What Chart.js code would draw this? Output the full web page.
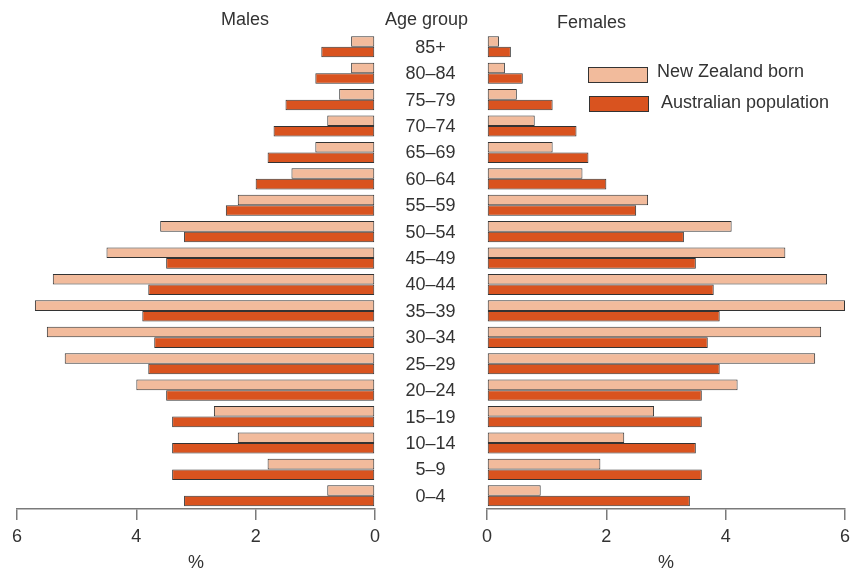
<!DOCTYPE html>
<html>
<head>
<meta charset="utf-8">
<script src="https://cdn.jsdelivr.net/npm/chart.js@4"></script>
<style>
  body { margin:0; background:#fff; overflow:hidden; }
  #wrap { position:relative; width:852px; height:572px; overflow:hidden; font-family:"Liberation Sans", Arial, sans-serif; color:#333; }
  .box { position:absolute; }
  .lbl { position:absolute; font-size:18px; white-space:nowrap; }
  .swatch { position:absolute; width:58px; height:14px; border:1px solid #333; }
</style>
</head>
<body>
<div id="wrap">
  <div class="box" style="left:0;top:0;width:430px;height:572px"><canvas id="malesChart"></canvas></div>
  <div class="box" style="left:375px;top:0;width:482px;height:572px"><canvas id="femalesChart"></canvas></div>
  <div class="lbl" style="left:221px;top:9px">Males</div>
  <div class="lbl" style="left:385px;top:9px">Age group</div>
  <div class="lbl" style="left:557px;top:12px">Females</div>
  <div id="legend"></div>
</div>
<script>
const ageGroups = ['85+','80–84','75–79','70–74','65–69','60–64','55–59','50–54','45–49',
                   '40–44','35–39','30–34','25–29','20–24','15–19','10–14','5–9','0–4'];
const malesNZ   = [0.4,0.4,0.6,0.8,1.0,1.4,2.3,3.6,4.5,5.4,5.7,5.5,5.2,4.0,2.7,2.3,1.8,0.8];
const malesAus  = [0.9,1.0,1.5,1.7,1.8,2.0,2.5,3.2,3.5,3.8,3.9,3.7,3.8,3.5,3.4,3.4,3.4,3.2];
const femalesNZ = [0.2,0.3,0.5,0.8,1.1,1.6,2.7,4.1,5.0,5.7,6.0,5.6,5.5,4.2,2.8,2.3,1.9,0.9];
const femalesAus= [0.4,0.6,1.1,1.5,1.7,2.0,2.5,3.3,3.5,3.8,3.9,3.7,3.9,3.6,3.6,3.5,3.6,3.4];
const seriesNames = ['New Zealand born','Australian population'];
const xTicks = [0,2,4,6];

const NZ_COLOR = '#f2bb9c';
const AUS_COLOR = '#d9531f';
const FONT = '"Liberation Sans", Arial, sans-serif';
const TEXT = '#333';

function makeDatasets(nz, aus){
    return [
        { label: seriesNames[0], data: nz, backgroundColor: NZ_COLOR, borderColor:'#333', borderWidth:1, borderSkipped:false,
          categoryPercentage:0.8, barPercentage:1.0 },
        { label: seriesNames[1], data: aus, backgroundColor: AUS_COLOR, borderColor:'#333', borderWidth:1, borderSkipped:false,
          categoryPercentage:0.8, barPercentage:1.0 }
    ];
}

function makeOptions(reverse, padLeft, padRight){
    return {
        indexAxis: 'y',
        responsive: true,
        maintainAspectRatio: false,
        animation: false,
        layout: { padding: { left: padLeft, right: padRight, top: 33.6, bottom: 0 } },
        plugins: { legend: { display:false }, tooltip: { enabled:false } },
        scales: {
            x: {
                reverse: reverse,
                min: 0, max: 6,
                afterBuildTicks: (s) => { s.ticks = xTicks.map(v => ({ value: v })); },
                afterFit: (s) => { s.height = 63; },
                grid: { display:true, drawOnChartArea:false, drawTicks:true, tickLength:11, color:'#7a7a7a', lineWidth:1.5 },
                border: { display:true, color:'#7a7a7a', width:1.5 },
                ticks: { color: TEXT, font: { family: FONT, size: 18 }, padding: 6, maxRotation:0 },
                title: { display:true, text:'%', color: TEXT, font: { family: FONT, size: 18, lineHeight: 1.0 }, padding: { top:0, bottom:0 } }
            },
            y: { display:false }
        }
    };
}

// age group labels in the gap between the two panels
const ageLabelPlugin = {
    id: 'ageLabels',
    afterDraw(chart){
        const ctx = chart.ctx;
        const yScale = chart.scales.y;
        ctx.save();
        ctx.font = '18px ' + FONT;
        ctx.fillStyle = TEXT;
        ctx.textAlign = 'center';
        ctx.textBaseline = 'middle';
        ageGroups.forEach((g, i) => {
            ctx.fillText(g, 55.5, yScale.getPixelForValue(i) + 1);
        });
        ctx.restore();
    }
};

new Chart(document.getElementById('malesChart'), {
    type: 'bar',
    data: { labels: ageGroups, datasets: makeDatasets(malesNZ, malesAus) },
    options: makeOptions(true, 17, 55)
});

new Chart(document.getElementById('femalesChart'), {
    type: 'bar',
    data: { labels: ageGroups, datasets: makeDatasets(femalesNZ, femalesAus) },
    options: makeOptions(false, 112, 12),
    plugins: [ageLabelPlugin]
});

// legend
const legend = document.getElementById('legend');
const legendRows = [
    { name: seriesNames[0], color: NZ_COLOR, sx: 588, sy: 67, tx: 657, ty: 61 },
    { name: seriesNames[1], color: AUS_COLOR, sx: 589, sy: 96, tx: 661, ty: 92 }
];
legendRows.forEach(r => {
    const sw = document.createElement('div');
    sw.className = 'swatch';
    sw.style.left = r.sx + 'px';
    sw.style.top = r.sy + 'px';
    sw.style.background = r.color;
    legend.append(sw);
    const t = document.createElement('div');
    t.className = 'lbl';
    t.style.left = r.tx + 'px';
    t.style.top = r.ty + 'px';
    t.textContent = r.name;
    legend.append(t);
});
</script>
</body>
</html>
